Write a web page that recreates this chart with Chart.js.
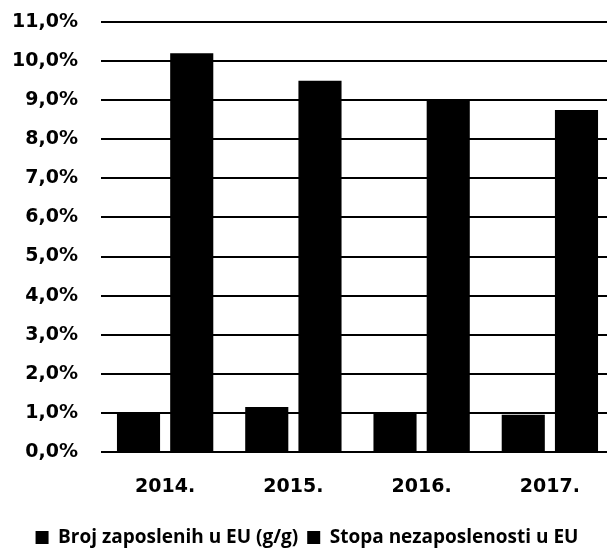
<!DOCTYPE html>
<html lang="hr">
<head>
    <meta charset="UTF-8">
    <title>Zaposlenost u EU</title>
    <script src="https://cdn.jsdelivr.net/npm/chart.js"></script>
    <style>
        html, body { margin: 0; padding: 0; background: #fff; overflow: hidden; }
        .wrap { width: 607px; height: 551px; overflow: hidden; }
        .box { width: 640px; height: 551px; position: relative; }
    </style>
</head>
<body>
<div class="wrap"><div class="box"><canvas id="chart"></canvas></div></div>
<script>
    const years = ['2014.', '2015.', '2016.', '2017.'];
    const employed = [1.0, 1.15, 1.0, 0.95];
    const unemployment = [10.2, 9.5, 9.0, 8.75];
    const seriesNames = ['Broj zaposlenih u EU (g/g)', 'Stopa nezaposlenosti u EU'];

    const tickFont = { family: "'DejaVu Sans', sans-serif", size: 19, weight: 'bold' };

    new Chart(document.getElementById('chart').getContext('2d'), {
        type: 'bar',
        data: {
            labels: years,
            datasets: [
                { label: seriesNames[0], data: employed, backgroundColor: '#000', borderWidth: 0 },
                { label: seriesNames[1], data: unemployment, backgroundColor: '#000', borderWidth: 0 }
            ]
        },
        options: {
            responsive: true,
            maintainAspectRatio: false,
            animation: false,
            datasets: { bar: { categoryPercentage: 0.83, barPercentage: 0.81 } },
            layout: { padding: { top: 22, right: 26, bottom: -6, left: 0 } },
            scales: {
                x: {
                    grid: { display: false },
                    border: { display: false },
                    ticks: { color: '#000', font: tickFont, padding: 16 },
                    afterFit: scale => { scale.height = 67; }
                },
                y: {
                    min: 0,
                    max: 11,
                    grid: { color: '#000', lineWidth: 2, drawTicks: false },
                    border: { display: false },
                    ticks: {
                        stepSize: 1,
                        color: '#000',
                        font: tickFont,
                        padding: 23,
                        callback: v => v.toFixed(1).replace('.', ',') + '%'
                    },
                    afterFit: scale => {
                        scale.width = 101;
                        scale.paddingTop = 0;
                    }
                }
            },
            plugins: {
                tooltip: { enabled: false },
                legend: {
                    position: 'bottom',
                    labels: {
                        color: '#000',
                        font: { family: "'Open Sans', sans-serif", size: 19, weight: 'bold' },
                        boxWidth: 13,
                        boxHeight: 13,
                        padding: 9
                    }
                }
            }
        }
    });
</script>
</body>
</html>
